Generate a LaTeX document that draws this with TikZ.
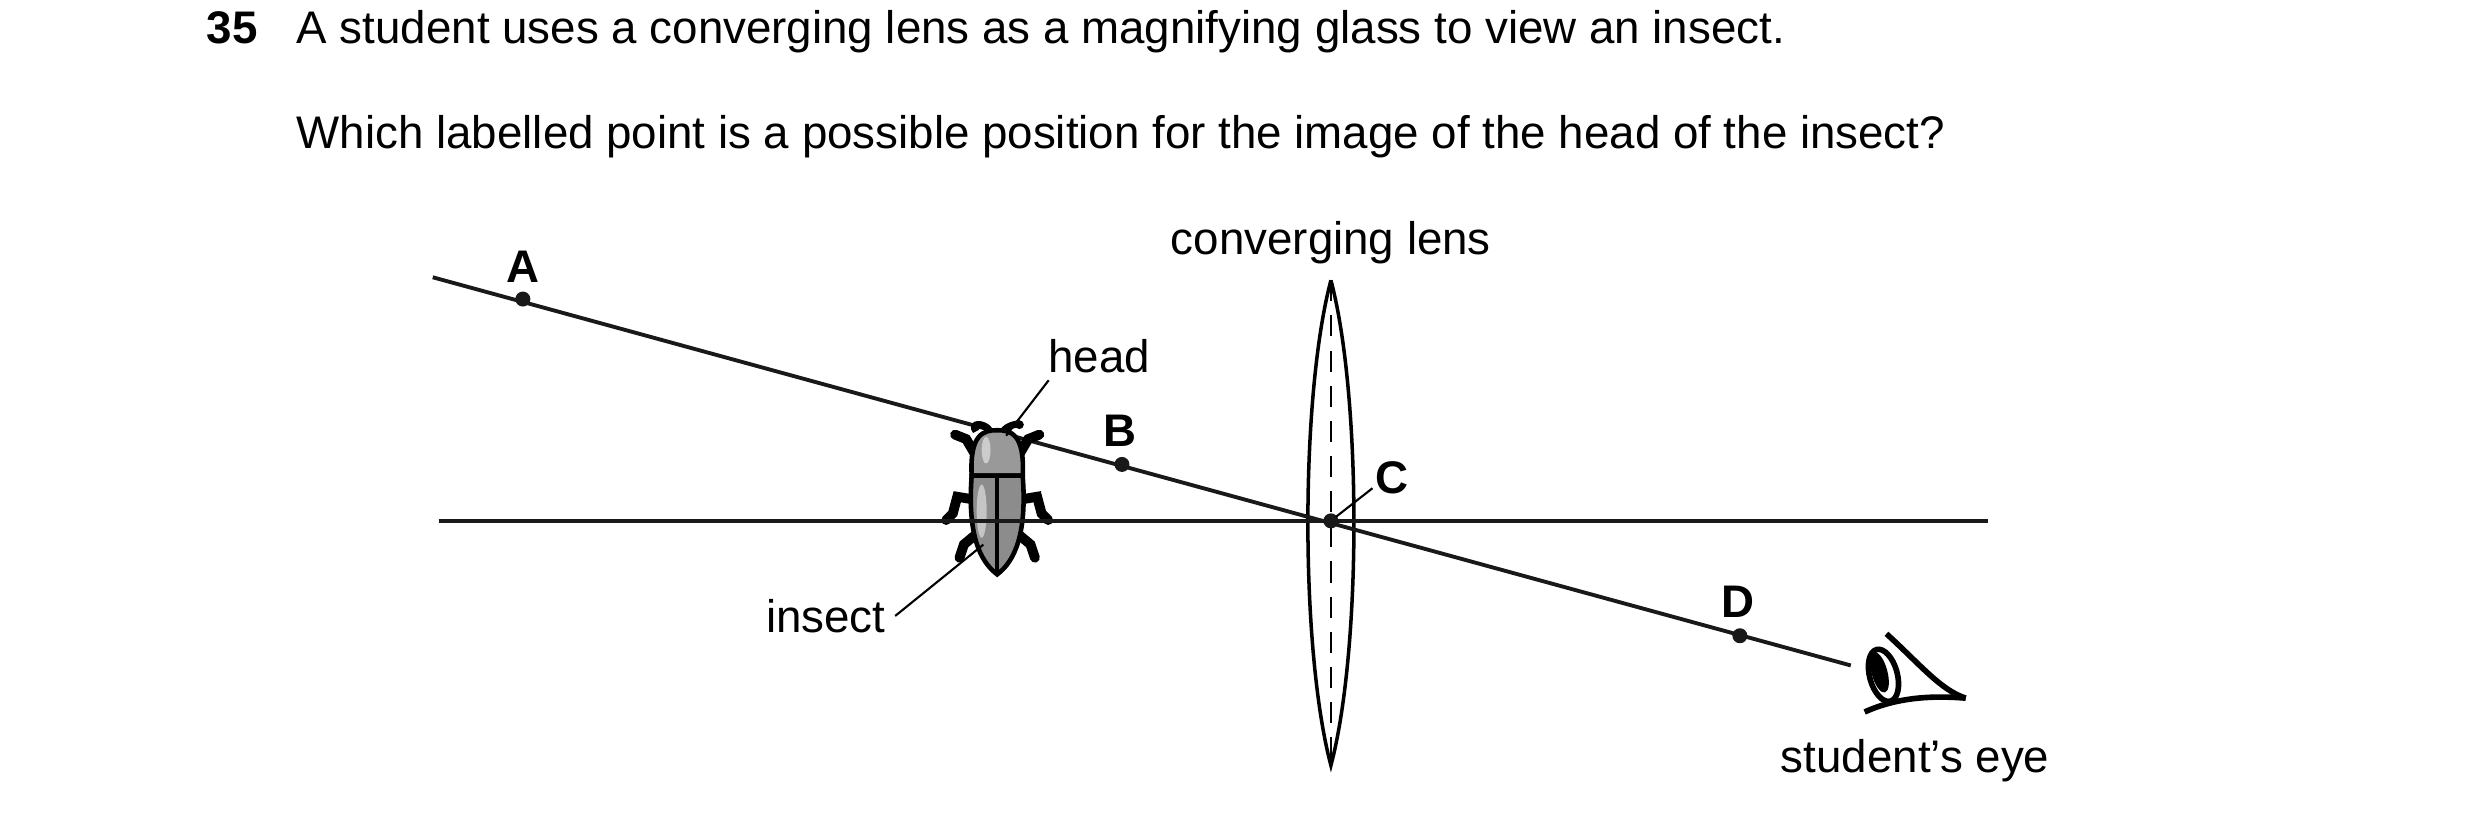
\documentclass[tikz,border=0pt]{standalone}
\usepackage{fontspec}
\setmainfont{Liberation Sans}
\begin{document}
\begin{tikzpicture}[x=0.0099cm,y=-0.0099cm,
  txt/.style={inner sep=0pt,font=\fontsize{13}{16}\selectfont},
  lbl/.style={inner sep=0pt,font=\fontsize{13}{16}\selectfont\bfseries},
  dot/.style={circle,fill=black!90,inner sep=0pt,minimum size=0.15cm},
  ln/.style={line width=1.1pt,black!90},
  lead/.style={line width=0.6pt}]
\useasboundingbox (0cm,0cm) rectangle (24.8cm,-8.23cm);
\node[txt,anchor=base west,font=\fontsize{13}{16}\selectfont\bfseries] (n35) at (208,44) {35};
\node[txt,anchor=base west] (q1) at (299,44) {A student uses a converging lens as a magnifying glass to view an insect.};
\node[txt,anchor=base west] (q2) at (299,150) {Which labelled point is a possible position for the image of the head of the insect?};
% axis
\coordinate (ax1) at (443,526); \coordinate (ax2) at (2008,526);
\draw[ln] (ax1) -- (ax2);
% lens
\coordinate (lt) at (1344,283); \coordinate (lb) at (1344,773);
\draw[line width=1pt,fill=white] (lt) .. controls (1375,400) and (1375,656) .. (lb) .. controls (1313,656) and (1313,400) .. (lt);
\draw[lead,dash pattern=on 6pt off 4pt] (lt) -- (lb);
\node[txt] (cl) at (1344,245) {converging lens};
% ray
\coordinate (r1) at (437,280); \coordinate (r2) at (1869,672);
\draw[ln] (r1) -- (r2);
\node[dot] (A) at (528,302) {}; \node[dot] (B) at (1133,469) {}; \node[dot] (C) at (1344,526) {}; \node[dot] (D) at (1757,642) {};
\node[lbl] (la) at (528,269) {A};
\node[lbl] (lbB) at (1131,435) {B};
\node[lbl] (lc) at (1406,482) {C};
\node[lbl] (ld) at (1755,608) {D};
\coordinate (c1) at (1349,522); \coordinate (c2) at (1386,493);
\draw[lead] (c1) -- (c2);
% insect
\begin{scope}[line width=1.3pt,shift={(10,5)}]
\begin{scope}[shift={(997,500)},scale=1.12,shift={(-997,-500)}]
 \foreach \s in {1,-1}{
  \draw[line width=2.8pt,line cap=round] (997+\s*18,500) -- (997+\s*36,497) -- (997+\s*40,512) -- (997+\s*46,518);
  \draw[line width=2.8pt,line cap=round] (997+\s*18,530) -- (997+\s*30,540) -- (997+\s*34,552);
  \draw[line width=2.8pt,line cap=round] (997+\s*18,462) -- (997+\s*28,445) -- (997+\s*38,441);
 }
 \draw[line width=2pt] (978,438) .. controls (972,430) and (985,430) .. (990,437);
 \draw[line width=2pt] (1003,437) .. controls (1010,430) and (1020,432) .. (1018,430);
 \fill[black] (1017,432) circle (4);
 \draw[fill=black!40] (974,478) .. controls (972,440) and (985,437) .. (997,437) .. controls (1009,437) and (1022,440) .. (1020,478) -- cycle;
 \draw[fill=black!45] (974,478) -- (1020,478) .. controls (1024,530) and (1013,555) .. (997,567) .. controls (981,555) and (970,530) .. (974,478) -- cycle;
 \draw (997,478) -- (997,567);
 \fill[white,opacity=0.5] (983,510) ellipse (4.5 and 24);
 \fill[white,opacity=0.5] (987,455) ellipse (4 and 12);
\end{scope}
\end{scope}
\draw[ln] (ax1) -- (ax2);
\node[txt] (head) at (1110,360) {head};
\coordinate (h1) at (1059,384); \coordinate (h2) at (1016,440);
\draw[lead] (h1) -- (h2);
\node[txt] (ins) at (834,622) {insect};
\coordinate (i1) at (904,622); \coordinate (i2) at (993,550);
\draw[lead] (i1) -- (i2);
% eye
\begin{scope}[line width=1.6pt,shift={(20,7)}]
 \draw (1885,633) .. controls (1920,665) and (1940,690) .. (1965,698);
 \draw (1863,712) .. controls (1900,695) and (1940,696) .. (1965,698);
 \draw[rotate around={15:(1882,675)}] (1882,675) ellipse (14 and 27);
 \fill[rotate around={15:(1878,672)}] (1878,672) ellipse (8 and 21);
\end{scope}
\node[txt] (eye) at (1934,768) {student’s eye};
\end{tikzpicture}
\end{document}
